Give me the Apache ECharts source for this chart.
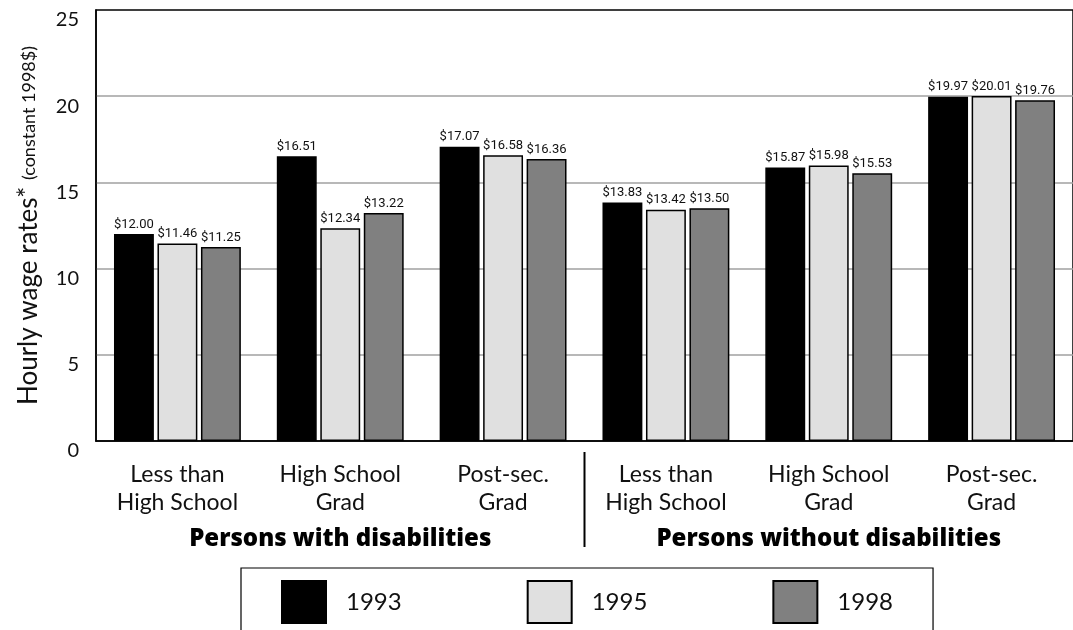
<!DOCTYPE html>
<html>
<head>
<meta charset="utf-8">
<script src="https://cdn.jsdelivr.net/npm/echarts@6/dist/echarts.min.js"></script>
<style>
  html, body { margin: 0; padding: 0; background: #fff; }
  #chart { width: 1073px; height: 630px; }
</style>
</head>
<body>
<div id="chart"></div>
<script>
// Education levels, repeated for each population group
const categories = [
  'Less than\nHigh School', 'High School\nGrad', 'Post-sec.\nGrad',
  'Less than\nHigh School', 'High School\nGrad', 'Post-sec.\nGrad'
];
const groups = ['Persons with disabilities', 'Persons without disabilities'];
const years = ['1993', '1995', '1998'];

// Hourly wage rates, constant 1998 dollars
const wages1993 = [12.00, 16.51, 17.07, 13.83, 15.87, 19.97];
const wages1995 = [11.46, 12.34, 16.58, 13.42, 15.98, 20.01];
const wages1998 = [11.25, 13.22, 16.36, 13.50, 15.53, 19.76];

const yMin = 0, yMax = 25, yStep = 5;

const textFont = 'Lato, "Open Sans", sans-serif';
const boldFont = '"Open Sans", Lato, sans-serif';
const valueFont = 'Roboto, "Noto Sans", sans-serif';
const barColors = ['#000000', '#e0e0e0', '#808080'];
const seriesValues = [wages1993, wages1995, wages1998];

const chart = echarts.init(document.getElementById('chart'), null, { renderer: 'canvas' });

const series = years.map((y, i) => ({
  name: y,
  type: 'bar',
  data: seriesValues[i],
  barWidth: '24.5%',
  barGap: '9%',
  itemStyle: { color: barColors[i], borderColor: '#000', borderWidth: 1.5 },
  label: {
    show: true,
    position: 'top',
    distance: 3,
    formatter: p => '$' + p.value.toFixed(2),
    fontFamily: valueFont,
    fontSize: 13,
    color: '#111'
  }
}));

chart.setOption({
  animation: false,
  grid: {
    left: 96, right: -5, top: 10, bottom: 189,
    show: true, borderColor: '#000', borderWidth: 1.5, backgroundColor: 'transparent'
  },
  legend: {
    data: years,
    left: 241, top: 568,
    padding: [12, 40, 30, 40],
    borderColor: '#000', borderWidth: 1.2,
    icon: 'rect',
    itemWidth: 44, itemHeight: 42, itemGap: 125,
    textStyle: { fontFamily: textFont, fontSize: 24, color: '#111', padding: [0, 0, 0, 15] }
  },
  xAxis: [
    {
      type: 'category',
      data: categories,
      axisLine: { lineStyle: { color: '#000', width: 1.5 } },
      axisTick: { inside: true, length: 8, interval: 0, lineStyle: { color: '#000', width: 1.2 } },
      axisLabel: {
        interval: 0, margin: 20,
        fontFamily: textFont, fontSize: 23, lineHeight: 28, color: '#111'
      }
    },
    {
      type: 'category',
      data: groups,
      position: 'bottom',
      axisLine: { show: false },
      axisTick: { show: false },
      axisLabel: {
        interval: 0, margin: 86,
        fontFamily: boldFont, fontSize: 24, fontWeight: 800, color: '#000'
      }
    }
  ],
  yAxis: {
    type: 'value',
    min: yMin, max: yMax, interval: yStep,
    axisLine: { show: true, lineStyle: { color: '#000', width: 1.5 } },
    axisTick: { show: false },
    axisLabel: {
      margin: 17, fontFamily: textFont, fontSize: 20, color: '#111',
      verticalAlign: 'top'
    },
    splitLine: {
      show: true, showMinLine: false, showMaxLine: false,
      lineStyle: { color: '#a0a0a0', width: 1.5 }
    },
    name: '{a|Hourly wage rates*}  {b|(constant 1998$)}',
    nameLocation: 'middle',
    nameRotate: 90,
    nameGap: 54,
    nameTextStyle: {
      color: '#111',
      rich: {
        a: { fontFamily: textFont, fontSize: 26, color: '#111' },
        b: { fontFamily: textFont, fontSize: 18, color: '#111' }
      }
    }
  },
  series: series
});

// Divider between the two population groups, below the category axis
const xLeft = chart.convertToPixel({ xAxisIndex: 0 }, 2);
const xRight = chart.convertToPixel({ xAxisIndex: 0 }, 3);
const xDiv = (xLeft + xRight) / 2;
const yZero = chart.convertToPixel({ yAxisIndex: 0 }, 0);
chart.setOption({
  graphic: [{
    type: 'line',
    shape: { x1: xDiv, y1: yZero + 11, x2: xDiv, y2: yZero + 106 },
    style: { stroke: '#000', lineWidth: 2 }
  }]
});
</script>
</body>
</html>
